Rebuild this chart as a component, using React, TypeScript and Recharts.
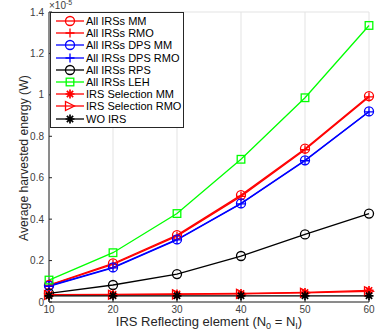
import React from 'react';
import { LineChart, Line, XAxis, YAxis, CartesianGrid } from 'recharts';

const elements = [10, 20, 30, 40, 50, 60];
// harvested energy, in units of 1e-5 W
const allMM = [0.082, 0.186, 0.323, 0.516, 0.74, 0.994];
const allRMO = [0.08, 0.182, 0.318, 0.51, 0.735, 0.99];
const dpsMM = [0.078, 0.167, 0.302, 0.476, 0.684, 0.92];
const dpsRMO = [0.076, 0.165, 0.3, 0.474, 0.682, 0.918];
const rps = [0.042, 0.082, 0.135, 0.222, 0.326, 0.427];
const leh = [0.106, 0.238, 0.427, 0.689, 0.986, 1.335];
const selMM = [0.036, 0.037, 0.039, 0.041, 0.046, 0.056];
const selRMO = [0.034, 0.035, 0.037, 0.039, 0.044, 0.052];
const woIRS = [0.03, 0.03, 0.03, 0.03, 0.03, 0.03];

const yTicks = [0, 0.2, 0.4, 0.6, 0.8, 1, 1.2, 1.4];

type Shape = 'circle' | 'plus' | 'square' | 'star' | 'tri';

const series: { key: string; name: string; color: string; shape: Shape; values: number[] }[] = [
  { key: 'allMM', name: 'All IRSs MM', color: '#ff0000', shape: 'circle', values: allMM },
  { key: 'allRMO', name: 'All IRSs RMO', color: '#ff0000', shape: 'plus', values: allRMO },
  { key: 'dpsMM', name: 'All IRSs DPS MM', color: '#0000ff', shape: 'circle', values: dpsMM },
  { key: 'dpsRMO', name: 'All IRSs DPS RMO', color: '#0000ff', shape: 'plus', values: dpsRMO },
  { key: 'rps', name: 'All IRSs RPS', color: '#000000', shape: 'circle', values: rps },
  { key: 'leh', name: 'All IRSs LEH', color: '#00ff00', shape: 'square', values: leh },
  { key: 'selMM', name: 'IRS Selection MM', color: '#ff0000', shape: 'star', values: selMM },
  { key: 'selRMO', name: 'IRS Selection RMO', color: '#ff0000', shape: 'tri', values: selRMO },
  { key: 'wo', name: 'WO IRS', color: '#000000', shape: 'star', values: woIRS },
];

const data = elements.map((n, i) => {
  const row: Record<string, number> = { n };
  series.forEach(s => (row[s.key] = s.values[i]));
  return row;
});

function Marker({ shape, color, x, y }: { shape: Shape; color: string; x: number; y: number }) {
  const r = 4.5;
  const sw = 1.3;
  switch (shape) {
    case 'circle':
      return <circle cx={x} cy={y} r={r} fill="none" stroke={color} strokeWidth={sw} />;
    case 'plus':
      return (
        <path d={`M${x - r},${y}H${x + r}M${x},${y - r}V${y + r}`} stroke={color} strokeWidth={sw} fill="none" />
      );
    case 'square':
      return <rect x={x - 3.8} y={y - 3.8} width={7.6} height={7.6} fill="none" stroke={color} strokeWidth={sw} />;
    case 'star': {
      const d = r * 0.7;
      return (
        <path
          d={`M${x - r},${y}H${x + r}M${x},${y - r}V${y + r}M${x - d},${y - d}L${x + d},${y + d}M${x - d},${y + d}L${x + d},${y - d}`}
          stroke={color}
          strokeWidth={sw + 0.4}
          fill="none"
        />
      );
    }
    case 'tri':
      return (
        <path d={`M${x + r},${y}L${x - r},${y - r}L${x - r},${y + r}Z`} fill="none" stroke={color} strokeWidth={sw} />
      );
  }
}

const makeDot = (shape: Shape, color: string) => (props: any) => {
  const { cx, cy, index } = props;
  if (cx == null || cy == null) return <g key={index} />;
  return (
    <g key={index}>
      <Marker shape={shape} color={color} x={cx} y={cy} />
    </g>
  );
};

const font = 'Liberation Sans, Arial, Helvetica, sans-serif';

function LegendBox() {
  return (
    <div
      style={{
        position: 'absolute',
        left: 50,
        top: 12,
        border: '1px solid #262626',
        background: '#fff',
        padding: '2px 4px 2px 4px',
        width: 124,
        fontFamily: font,
        fontSize: 11,
        color: '#000',
        lineHeight: '12.2px',
      }}
    >
      {series.map(s => (
        <div key={s.key} style={{ display: 'flex', alignItems: 'center', height: 12.2 }}>
          <svg width={30} height={12} style={{ flex: 'none' }}>
            <line x1={1} y1={6} x2={29} y2={6} stroke={s.color} strokeWidth={1.3} />
            <Marker shape={s.shape} color={s.color} x={15} y={6} />
          </svg>
          <span style={{ marginLeft: 1, whiteSpace: 'nowrap' }}>{s.name}</span>
        </div>
      ))}
    </div>
  );
}

const XLabel = (props: any) => {
  const { viewBox } = props;
  const cx = viewBox.x + viewBox.width / 2;
  return (
    <text x={cx} y={326} textAnchor="middle" fontFamily={font} fontSize={13} fill="#262626">
      IRS Reflecting element (N
      <tspan fontSize={9} dy={3}>0</tspan>
      <tspan dy={-3}> = N</tspan>
      <tspan fontSize={9} dy={3}>I</tspan>
      <tspan dy={-3}>)</tspan>
    </text>
  );
};

export default function App() {
  const tickStyle = { fontFamily: font, fontSize: 10, fill: '#404040' };
  return (
    <div style={{ position: 'absolute', left: 0, top: 0, width: 375, height: 332, background: '#fff' }}>
      <LineChart width={375} height={332} data={data} margin={{ top: 12, right: 6, bottom: 0, left: 0 }}>
        <CartesianGrid stroke="#e3e3e3" strokeWidth={1} />
        <XAxis
          xAxisId="b"
          dataKey="n"
          type="number"
          domain={[10, 60]}
          ticks={elements}
          height={30}
          tickSize={-3}
          tickMargin={7}
          stroke="#262626"
          tick={tickStyle}
          label={<XLabel />}
        />
        <XAxis xAxisId="t" orientation="top" dataKey="n" type="number" domain={[10, 60]} ticks={elements} height={0} tickSize={-3} tick={false} stroke="#262626" />
        <YAxis
          yAxisId="l"
          type="number"
          domain={[0, 1.4]}
          ticks={yTicks}
          width={49}
          tickSize={-3}
          tickMargin={8}
          stroke="#262626"
          tick={tickStyle}
          tickFormatter={(v: number) => String(Math.round(v * 10) / 10)}
          label={{
            value: 'Average harvested energy (W)',
            angle: -90,
            position: 'insideLeft',
            dx: 19,
            dy: 84,
            style: { fontFamily: font, fontSize: 12.2, fill: '#262626' },
          }}
        />
        <YAxis yAxisId="r" orientation="right" type="number" domain={[0, 1.4]} ticks={yTicks} width={0} tickSize={-3} tick={false} stroke="#262626" />
        {series.map(s => (
          <Line
            key={s.key}
            xAxisId="b"
            yAxisId="l"
            dataKey={s.key}
            name={s.name}
            stroke={s.color}
            strokeWidth={1.3}
            type="linear"
            dot={makeDot(s.shape, s.color)}
            activeDot={false}
            isAnimationActive={false}
          />
        ))}
      </LineChart>
      <LegendBox />
      <div style={{ position: 'absolute', left: 49, top: 0, fontFamily: font, fontSize: 10, color: '#404040' }}>
        ×10<sup style={{ fontSize: 7, verticalAlign: 'top', position: 'relative', top: -1 }}>-5</sup>
      </div>
    </div>
  );
}
